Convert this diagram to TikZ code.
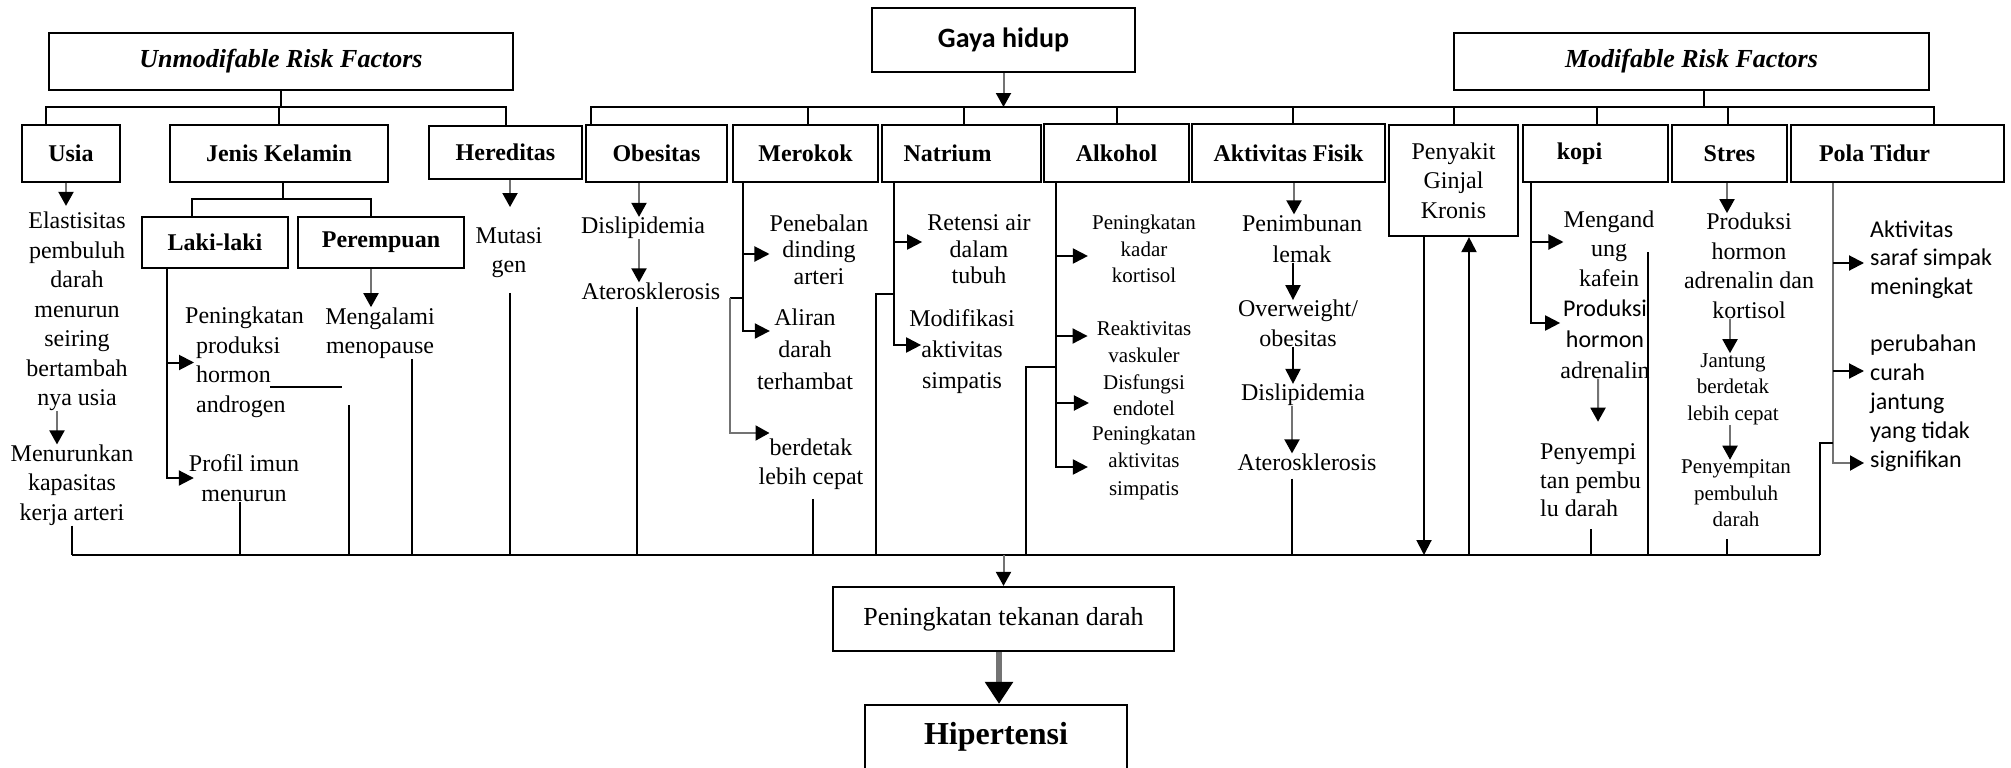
\documentclass[tikz,border=0pt]{standalone}
\usepackage{fontspec}
\setmainfont{Liberation Serif}
\newfontfamily\calibri{Carlito}
\usetikzlibrary{arrows.meta}

\begin{document}
\begin{tikzpicture}[x=1pt,y=-1pt,
  box/.style={draw,line width=2.2pt,inner sep=0pt},
  lbl/.style={box,minimum height=57pt,font=\bfseries\fontsize{24}{29}\selectfont},
  head/.style={box,minimum height=57pt,font=\bfseries\itshape\fontsize{26}{30}\selectfont},
  txt/.style={align=center,inner sep=0pt,font=\fontsize{24}{29.5}\selectfont},
  smalltxt/.style={align=center,inner sep=0pt,font=\fontsize{21}{26.5}\selectfont},
  sanstxt/.style={align=left,anchor=west,inner sep=0pt,font=\calibri\fontsize{24}{29}\selectfont},
  conn/.style={line width=2pt},
  arr/.style={conn,-{Stealth[inset=0pt,length=15pt,width=15pt]}},
  garr/.style={conn,draw=black!55,-{Stealth[inset=0pt,length=14pt,width=15pt,color=black]}}]
  \useasboundingbox (0,0) rectangle (2011,768);

  % heads
  \node[head,minimum width=464pt] (umrf) at (281,61.5) {Unmodifable Risk Factors};
  \node[head,minimum width=475pt] (mrf) at (1691.5,61.5) {Modifable Risk Factors};
  \node[box,minimum width=263pt,minimum height=64pt,font=\calibri\bfseries\fontsize{28}{32}\selectfont] (gaya) at (1003.5,40) {Gaya hidup};

  % factors
  \node[lbl,minimum width=98pt] (usia) at (71,153.5) {Usia};
  \node[lbl,minimum width=218pt] (jk) at (279,153.5) {Jenis Kelamin};
  \node[lbl,minimum width=153pt,minimum height=53pt] (hered) at (505.5,152.5) {Hereditas};
  \node[lbl,minimum width=141pt] (obes) at (656.5,153.5) {Obesitas};
  \node[lbl,minimum width=145pt] (merokok) at (805.5,153.5) {Merokok};
  \node[lbl,minimum width=159pt] (natrium) at (961.5,153.5) {Natrium\hspace*{28pt}};
  \node[lbl,minimum width=145pt,minimum height=58pt] (alkohol) at (1116.5,153) {Alkohol};
  \node[lbl,minimum width=193pt,minimum height=58pt] (aktfis) at (1288.5,153) {Aktivitas Fisik};
  \node[box,txt,minimum width=129pt,minimum height=111pt] (ginjal) at (1453.5,180.5) {Penyakit\\Ginjal\\Kronis};
  \node[lbl,minimum width=145pt] (kopi) at (1595.5,153.5) {kopi\hspace*{32pt}};
  \node[lbl,minimum width=115pt] (stres) at (1729.5,153.5) {Stres};
  \node[lbl,minimum width=213pt] (pola) at (1897.5,153.5) {Pola Tidur\hspace*{46pt}};
  \node[lbl,minimum width=146pt,minimum height=51pt] (laki) at (215,242.5) {Laki-laki};
  \node[lbl,minimum width=166pt,minimum height=51pt] (perem) at (381,242.5) {Perempuan};

  % effects
  \node[txt] (elast) at (77,311.5) {Elastisitas\\pembuluh\\darah\\menurun\\seiring\\bertambah\\nya usia};
  \node[txt] (kapas) at (72,485) {Menurunkan\\kapasitas\\kerja arteri};
  \node[txt,align=left,anchor=west] (andro) at (185,362.5) {Peningkatan\\\hspace*{11pt}produksi\\\hspace*{11pt}hormon\\\hspace*{11pt}androgen};
  \node[txt] (imun) at (244,478) {Profil imun\\menurun};
  \node[txt] (meno) at (380,333) {Mengalami\\menopause};
  \node[txt] (mutasi) at (509,252.5) {Mutasi\\gen};
  \node[txt] (odisl) at (643,228) {Dislipidemia};
  \node[txt] (oater) at (651,291) {Aterosklerosis};
  \node[txt,font=\fontsize{24}{26.5}\selectfont] (tebal) at (819,249.5) {Penebalan\\dinding\\arteri};
  \node[txt,font=\fontsize{24}{32}\selectfont] (aliran) at (805,349) {Aliran\\darah\\terhambat};
  \node[txt] (detak) at (811,464) {berdetak\\lebih cepat};
  \node[txt,font=\fontsize{24}{26.5}\selectfont] (retensi) at (979,249.5) {Retensi air\\dalam\\tubuh};
  \node[txt,font=\fontsize{24}{31}\selectfont] (modif) at (962,352) {Modifikasi\\aktivitas\\simpatis};
  \node[smalltxt] (kort) at (1144,249) {Peningkatan\\kadar\\kortisol};
  \node[smalltxt] (reakt) at (1144,342) {Reaktivitas\\vaskuler};
  \node[smalltxt] (disf) at (1144,395) {Disfungsi\\endotel};
  \node[smalltxt,font=\fontsize{21}{27.5}\selectfont] (simp) at (1144,462.5) {Peningkatan\\aktivitas\\simpatis};
  \node[txt,font=\fontsize{24}{31}\selectfont] (timbun) at (1302,238.5) {Penimbunan\\lemak};
  \node[txt] (overw) at (1298,323.5) {Overweight/\\obesitas};
  \node[txt] (adisl) at (1303,395) {Dislipidemia};
  \node[txt] (aater) at (1307,462) {Aterosklerosis};
  \node[txt] (kafein) at (1609,248.5) {Mengand\\ung\\kafein};
  \node[txt,font=\fontsize{24}{31}\selectfont] (kadr) at (1605,339) {{\calibri Produksi}\\{\calibri hormon}\\adrenalin};
  \node[txt,align=left,anchor=west,font=\fontsize{24}{28.5}\selectfont] (sempi) at (1540,480.5) {Penyempi\\tan pembu\\lu darah};
  \node[txt] (sadr) at (1749,266) {Produksi\\hormon\\adrenalin dan\\kortisol};
  \node[smalltxt] (jantung) at (1733,389) {Jantung\\berdetak\\lebih cepat};
  \node[smalltxt] (ssempit) at (1736,493.5) {Penyempitan\\pembuluh\\darah};
  \node[sanstxt,font=\calibri\fontsize{24}{28.5}\selectfont] (saraf) at (1870,259.5) {Aktivitas\\saraf simpak\\meningkat};
  \node[sanstxt] (curah) at (1870,403.5) {perubahan\\curah\\jantung\\yang tidak\\signifikan};

  % outcome
  \node[box,minimum width=341pt,minimum height=64pt,font=\fontsize{26}{30}\selectfont] (tekanan) at (1003.5,619) {Peningkatan tekanan darah};
  \node[box,minimum width=262pt,minimum height=64pt,font=\bfseries\fontsize{32}{36}\selectfont] (hiper) at (996,737) {Hipertensi};

  \coordinate (tbar) at (0,107);
  \coordinate (jbar) at (0,199);
  \coordinate (bbar) at (0,555);

  % tree on top
  \draw[conn] (umrf.south) -- (umrf.south |- tbar);
  \draw[conn] ([xshift=-25pt]usia.north) |- (hered.north |- tbar) -- (hered.north);
  \draw[conn] (jk.north) -- (jk.north |- tbar);
  \draw[conn] ([xshift=4pt]jk.south) -- ([xshift=4pt]jk.south |- jbar);
  \draw[conn] ([xshift=-23pt]laki.north) |- ([xshift=-10pt]perem.north |- jbar) -- ([xshift=-10pt]perem.north);
  \draw[garr] (gaya.south) -- (gaya.south |- tbar);
  \draw[conn] ([xshift=12.5pt]mrf.south) -- ([xshift=12.5pt]mrf.south |- tbar);
  \draw[conn] ([xshift=-65.5pt]obes.north) |- ([xshift=36.5pt]pola.north |- tbar) -- ([xshift=36.5pt]pola.north);
  \draw[conn] ([xshift=2.5pt]merokok.north) -- ([xshift=2.5pt]merokok.north |- tbar);
  \draw[conn] ([xshift=2.5pt]natrium.north) -- ([xshift=2.5pt]natrium.north |- tbar);
  \draw[conn] (alkohol.north) -- (alkohol.north |- tbar);
  \draw[conn] ([xshift=4.5pt]aktfis.north) -- ([xshift=4.5pt]aktfis.north |- tbar);
  \draw[conn] (ginjal.north) -- (ginjal.north |- tbar);
  \draw[conn] ([xshift=1.5pt]kopi.north) -- ([xshift=1.5pt]kopi.north |- tbar);
  \draw[conn] ([xshift=-1.5pt]stres.north) -- ([xshift=-1.5pt]stres.north |- tbar);

  % usia
  \draw[garr,shorten >=6pt] ([xshift=-5pt]usia.south) -- ([xshift=-11pt]elast.north);
  \draw[garr] ([xshift=-20pt]elast.south) -- ([xshift=-15pt]kapas.north);
  \draw[conn] (kapas.south) -- (kapas.south |- bbar);

  % jenis kelamin
  \coordinate (lakiT) at ([xshift=-48pt]laki.south);
  \draw[arr] (lakiT) |- ([xshift=5pt]imun.west);
  \draw[arr] (lakiT |- andro.west) -- ([xshift=9pt]andro.west);
  \draw[conn] ([xshift=-4pt]imun.south) -- ([xshift=-4pt]imun.south |- bbar);
  \coordinate (strayA) at (270,387);
  \coordinate (strayB) at (342,387);
  \coordinate (strayC) at (349,405);
  \draw[conn] (strayA) -- (strayB);
  \draw[conn] (strayC) -- (strayC |- bbar);
  \draw[garr] ([xshift=-10pt]perem.south) -- ([xshift=-9pt]meno.north);
  \draw[conn] ([xshift=32pt]meno.south) -- ([xshift=32pt]meno.south |- bbar);

  % hereditas, obesitas
  \draw[garr,shorten >=20pt] ([xshift=4.5pt]hered.south) -- ([xshift=1pt]mutasi.north);
  \draw[conn,shorten <=15pt] ([xshift=1pt]mutasi.south) -- ([xshift=1pt]mutasi.south |- bbar);
  \draw[garr] ([xshift=-17.5pt]obes.south) -- ([xshift=-4pt]odisl.north);
  \draw[garr] ([xshift=-4pt]odisl.south) -- ([xshift=-12pt]oater.north);
  \draw[conn,shorten <=7pt] ([xshift=-14pt]oater.south) -- ([xshift=-14pt]oater.south |- bbar);

  % merokok
  \coordinate (merT) at ([xshift=-62.5pt]merokok.south);
  \coordinate (merJ) at (730,298);
  \draw[arr] (merT) |- ([xshift=13pt,yshift=18pt]aliran.west);
  \draw[arr] (merT |- tebal.west) ++(0,4.5) -- ([yshift=-4.5pt]tebal.west);
  \draw[conn] (merT |- merJ) -- (merJ);
  \draw[garr] (merJ) |- ([xshift=11pt,yshift=31pt]detak.west);
  \draw[conn,shorten <=9pt] ([xshift=2pt]detak.south) -- ([xshift=2pt]detak.south |- bbar);

  % natrium
  \coordinate (natT) at ([xshift=-67.5pt]natrium.south);
  \coordinate (natJ) at (876,294);
  \draw[arr] (natT) |- ([xshift=12pt,yshift=7pt]modif.west);
  \draw[arr] (natT |- retensi.west) ++(0,-7.5) -- ([xshift=-5pt,yshift=7.5pt]retensi.west);
  \draw[conn] (natT |- natJ) -- (natJ) -- (natJ |- bbar);

  % alkohol
  \coordinate (alkT) at ([xshift=-60.5pt]alkohol.south);
  \coordinate (alkJ) at (1026,367);
  \draw[arr] (alkT) |- ([xshift=-4pt,yshift=-4.5pt]simp.west);
  \draw[arr] (alkT |- kort.west) ++(0,7) -- ([xshift=-4pt,yshift=-7pt]kort.west);
  \draw[arr] (alkT |- reakt.west) ++(0,-6) -- ([xshift=-9pt,yshift=6pt]reakt.west);
  \draw[arr] (alkT |- disf.west) ++(0,8) -- ([xshift=-14pt,yshift=-8pt]disf.west);
  \draw[conn] (alkT |- alkJ) -- (alkJ) -- (alkJ |- bbar);

  % aktivitas fisik
  \draw[garr] ([xshift=5.5pt]aktfis.south) -- ([xshift=-8pt]timbun.north);
  \draw[arr] ([xshift=-9pt]timbun.south) -- ([xshift=-5pt]overw.north);
  \draw[arr] ([xshift=-5pt]overw.south) -- ([xshift=-10pt]adisl.north);
  \draw[garr] ([xshift=-11pt]adisl.south) -- ([xshift=-15pt]aater.north);
  \draw[conn,shorten <=8pt] ([xshift=-15pt]aater.south) -- ([xshift=-15pt]aater.south |- bbar);

  % ginjal
  \draw[arr] ([xshift=-29.5pt]ginjal.south) -- ([xshift=-29.5pt]ginjal.south |- bbar);
  \draw[arr] ([xshift=15.5pt]ginjal.south |- bbar) -- ([xshift=15.5pt]ginjal.south);

  % kopi
  \coordinate (kopT) at ([xshift=-64.5pt]kopi.south);
  \coordinate (kopL) at (1648,252);
  \draw[arr] (kopT) |- ([yshift=16pt]kadr.west);
  \draw[arr] (kopT |- kafein.west) ++(0,-6.5) -- ([yshift=6.5pt]kafein.west);
  \draw[garr,shorten >=22pt] ([xshift=-7pt]kadr.south) -- ([xshift=7.5pt]sempi.north);
  \draw[conn,shorten <=12pt] ([xshift=0.5pt]sempi.south) -- ([xshift=0.5pt]sempi.south |- bbar);
  \draw[conn] (kopL) -- (kopL |- bbar);

  % stres
  \draw[garr] ([xshift=-2.5pt]stres.south) -- ([xshift=-22pt]sadr.north);
  \draw[garr] ([xshift=-19pt]sadr.south) -- ([xshift=-3pt]jantung.north);
  \draw[garr] ([xshift=-3pt]jantung.south) -- ([xshift=-6pt]ssempit.north);
  \draw[conn,shorten <=12pt] ([xshift=-9pt]ssempit.south) -- ([xshift=-9pt]ssempit.south |- bbar);

  % pola tidur
  \coordinate (polT) at ([xshift=-64.5pt]pola.south);
  \coordinate (polJ) at (1820,443);
  \draw[garr] (polT) |- ([xshift=-6pt,yshift=-59.5pt]curah.west);
  \draw[arr] (polT |- saraf.west) ++(0,3.5) -- ([xshift=-6pt,yshift=-3.5pt]saraf.west);
  \draw[arr] (polT |- curah.west) ++(0,-32.5) -- ([xshift=-6pt,yshift=32.5pt]curah.west);
  \draw[conn] (polT |- polJ) -- (polJ) -- (polJ |- bbar);

  % bottom
  \draw[conn] (kapas.south |- bbar) -- (polJ |- bbar);
  \draw[garr] (tekanan.north |- bbar) -- (tekanan.north);
  \draw[line width=6pt,draw=black!55,-{Stealth[inset=0pt,length=22pt,width=27pt,color=black]}] ([xshift=-4.5pt]tekanan.south) -- ([xshift=3pt]hiper.north);
\end{tikzpicture}
\end{document}
